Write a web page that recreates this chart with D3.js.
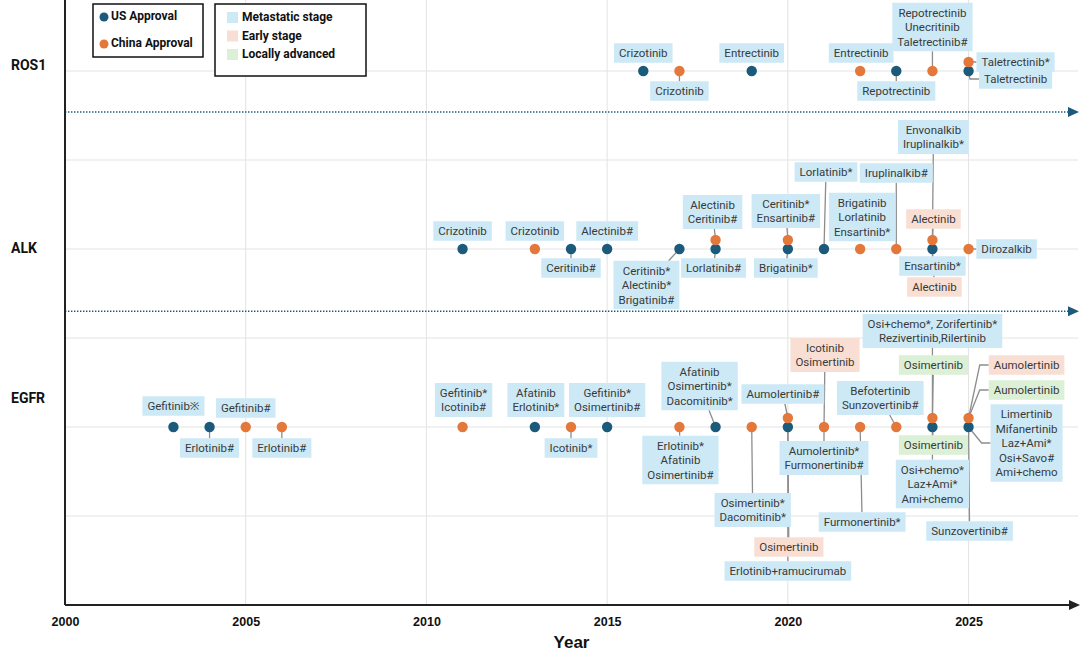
<!DOCTYPE html>
<html><head><meta charset="utf-8">
<script src="https://cdn.jsdelivr.net/npm/d3@7"></script>
<style>body{margin:0;background:#fff}svg{display:block}</style>
</head><body>
<svg id="chart" width="1080" height="655"></svg>
<script>
// ---------------- DATA ----------------
const genes = ["ROS1", "ALK", "EGFR"];
const yearTicks = [2000, 2005, 2010, 2015, 2020, 2025];
const regions = ["US Approval", "China Approval"];
const stages = ["Metastatic stage", "Early stage", "Locally advanced"];

const usROS1 = [2016, 2019, 2023, 2025];
const cnROS1 = [2017, 2022, 2024, 2025];
const usALK = [2011, 2014, 2015, 2017, 2018, 2020, 2021, 2024];
const cnALK = [2013, 2018, 2020, 2022, 2023, 2024, 2025];
const usEGFR = [2003, 2004, 2013, 2015, 2018, 2020, 2024, 2025];
const cnEGFR = [2005, 2006, 2011, 2014, 2017, 2019, 2020, 2021, 2022, 2023, 2024, 2025];

// [gene, year, region, stage, text]  (M = metastatic, E = early, L = locally advanced)
const approvalLabels = [
  ["ROS1", 2016, "US", "M", "Crizotinib"],
  ["ROS1", 2017, "CN", "M", "Crizotinib"],
  ["ROS1", 2019, "US", "M", "Entrectinib"],
  ["ROS1", 2022, "CN", "M", "Entrectinib"],
  ["ROS1", 2023, "US", "M", "Repotrectinib"],
  ["ROS1", 2024, "CN", "M", "Repotrectinib\nUnecritinib\nTaletrectinib#"],
  ["ROS1", 2025, "CN", "M", "Taletrectinib*"],
  ["ROS1", 2025, "US", "M", "Taletrectinib"],
  ["ALK", 2011, "US", "M", "Crizotinib"],
  ["ALK", 2013, "CN", "M", "Crizotinib"],
  ["ALK", 2014, "US", "M", "Ceritinib#"],
  ["ALK", 2015, "US", "M", "Alectinib#"],
  ["ALK", 2017, "US", "M", "Ceritinib*\nAlectinib*\nBrigatinib#"],
  ["ALK", 2018, "CN", "M", "Alectinib\nCeritinib#"],
  ["ALK", 2018, "US", "M", "Lorlatinib#"],
  ["ALK", 2020, "CN", "M", "Ceritinib*\nEnsartinib#"],
  ["ALK", 2020, "US", "M", "Brigatinib*"],
  ["ALK", 2021, "US", "M", "Lorlatinib*"],
  ["ALK", 2022, "CN", "M", "Brigatinib\nLorlatinib\nEnsartinib*"],
  ["ALK", 2023, "CN", "M", "Iruplinalkib#"],
  ["ALK", 2024, "CN", "E", "Alectinib"],
  ["ALK", 2024, "CN", "M", "Envonalkib\nIruplinalkib*"],
  ["ALK", 2024, "US", "M", "Ensartinib*"],
  ["ALK", 2024, "US", "E", "Alectinib"],
  ["ALK", 2025, "CN", "M", "Dirozalkib"],
  ["EGFR", 2003, "US", "M", "Gefitinib※"],
  ["EGFR", 2004, "US", "M", "Erlotinib#"],
  ["EGFR", 2005, "CN", "M", "Gefitinib#"],
  ["EGFR", 2006, "CN", "M", "Erlotinib#"],
  ["EGFR", 2011, "CN", "M", "Gefitinib*\nIcotinib#"],
  ["EGFR", 2013, "US", "M", "Afatinib\nErlotinib*"],
  ["EGFR", 2014, "CN", "M", "Icotinib*"],
  ["EGFR", 2015, "US", "M", "Gefitinib*\nOsimertinib#"],
  ["EGFR", 2017, "CN", "M", "Erlotinib*\nAfatinib\nOsimertinib#"],
  ["EGFR", 2018, "US", "M", "Afatinib\nOsimertinib*\nDacomitinib*"],
  ["EGFR", 2019, "CN", "M", "Osimertinib*\nDacomitinib*"],
  ["EGFR", 2020, "CN", "M", "Aumolertinib#"],
  ["EGFR", 2020, "US", "E", "Osimertinib"],
  ["EGFR", 2020, "US", "M", "Erlotinib+ramucirumab"],
  ["EGFR", 2021, "CN", "E", "Icotinib\nOsimertinib"],
  ["EGFR", 2021, "CN", "M", "Aumolertinib*\nFurmonertinib#"],
  ["EGFR", 2022, "CN", "M", "Furmonertinib*"],
  ["EGFR", 2023, "CN", "M", "Befotertinib\nSunzovertinib#"],
  ["EGFR", 2024, "CN", "L", "Osimertinib"],
  ["EGFR", 2024, "CN", "M", "Osi+chemo*, Zorifertinib*\nRezivertinib,Rilertinib"],
  ["EGFR", 2024, "US", "L", "Osimertinib"],
  ["EGFR", 2024, "US", "M", "Osi+chemo*\nLaz+Ami*\nAmi+chemo"],
  ["EGFR", 2025, "CN", "E", "Aumolertinib"],
  ["EGFR", 2025, "CN", "L", "Aumolertinib"],
  ["EGFR", 2025, "US", "M", "Limertinib\nMifanertinib\nLaz+Ami*\nOsi+Savo#\nAmi+chemo"],
  ["EGFR", 2025, "US", "M", "Sunzovertinib#"]
];

// ---------------- LAYOUT (label box centre offset from the dot's row point, link type) ----------------
const labelLayout = [
  [0,-18,0],[0,20,1],[0,-18,0],[1,-18,0],[0,20,1],[0,-44,1],[47,-9,2],[47,8,2],
  [0,-18,0],[0,-18,0],[0,19,1],[0,-18,0],[-33,36,1],[-3,-37,1],[-2,19,1],[-2,-38,1],[-2,19,1],
  [2,-77,1],[2,-32,0],[0,-76,1],[1,-30,1],[1,-112,1],[0,17,1],[2,38,1],[38,0,1],
  [0,-21,0],[0,21,1],[0,-19,0],[0,21,1],[1,-27,0],[1,-27,0],[0,21,1],[0,-27,0],
  [1,33,1],[-16,-41,1],[1,83,1],[-5,-33,1],[1,120,1],[0,144,1],[1,-72,1],[0,31,1],[2,95,1],
  [-16,-29,1],[1,-62,1],[0,-96,1],[1,18,1],[0,57,1],[58,-62,2],[58,-37,2],[58,16,2],[1,104,1]
];

// ---------------- STYLES ----------------
const usColor = "#1b5a7a", cnColor = "#e4773a";
const stageFill = {M: "#cde9f6", E: "#f9dfd3", L: "#dbf0d5"};
const labelFont = "Roboto, 'Noto Sans', sans-serif";
const axisFont = "'Liberation Sans Narrow','Liberation Sans',Arial,sans-serif";

const svg = d3.select("#chart");
const x = d3.scaleLinear().domain([2000, 2028]).range([65, 1077]);
const y = d3.scaleLinear().domain([0, 7]).range([605, -18]);
const geneLevel = d3.scaleOrdinal().domain(genes).range([6, 4, 2]);
const rowY = g => y(geneLevel(g));

// grid
const grid = svg.append("g");
grid.selectAll("line.v").data(yearTicks.slice(1)).join("line")
  .attr("x1", d => x(d)).attr("x2", d => x(d)).attr("y1", 0).attr("y2", y(0))
  .attr("stroke", "#e3e3e3").attr("stroke-width", 1);
grid.selectAll("line.h").data(d3.range(1, 7)).join("line")
  .attr("x1", x(2000)).attr("x2", 1078).attr("y1", d => y(d)).attr("y2", d => y(d))
  .attr("stroke", "#e3e3e3").attr("stroke-width", 1);

// separators (dotted arrows)
[5.54, 3.30].forEach(v => {
  svg.append("line").attr("x1", x(2000)).attr("x2", 1068).attr("y1", y(v)).attr("y2", y(v))
    .attr("stroke", usColor).attr("stroke-width", 1.6).attr("stroke-dasharray", "1.4,1.6");
  svg.append("path").attr("d", `M1068,${y(v)-5}L1079,${y(v)}L1068,${y(v)+5}Z`).attr("fill", usColor);
});

// axes
svg.append("line").attr("x1", x(2000)).attr("x2", x(2000)).attr("y1", 0).attr("y2", y(0))
  .attr("stroke", "#222").attr("stroke-width", 2);
svg.append("line").attr("x1", x(2000)).attr("x2", 1070).attr("y1", y(0)).attr("y2", y(0))
  .attr("stroke", "#222").attr("stroke-width", 2);
svg.append("path").attr("d", `M1069,${y(0)-5}L1080,${y(0)}L1069,${y(0)+5}Z`).attr("fill", "#222");

const xAxis = d3.axisBottom(x).tickValues(yearTicks).tickFormat(d3.format("d")).tickSize(0).tickPadding(12);
const ax = svg.append("g").attr("transform", `translate(0,${y(0)})`).call(xAxis);
ax.select(".domain").remove();
ax.selectAll("text").attr("font-family", axisFont)
  .attr("font-weight", "bold").attr("font-size", 12.5).attr("fill", "#111");
svg.append("text").attr("x", (x(2000) + 1078) / 2).attr("y", 644).attr("text-anchor", "middle")
  .attr("dominant-baseline", "middle").attr("font-family", axisFont)
  .attr("font-weight", "bold").attr("font-size", 17).attr("fill", "#111").text("Year");

// row labels
const rowLabelShift = [-5, 0, -28];
svg.selectAll("text.row").data(genes).join("text")
  .attr("x", 11).attr("y", (d, i) => rowY(d) + rowLabelShift[i])
  .attr("dominant-baseline", "middle").attr("font-family", labelFont)
  .attr("font-weight", "bold").attr("font-size", 14).attr("fill", "#111").text(d => d);

// dots
const dotList = [];
const usBy = {ROS1: usROS1, ALK: usALK, EGFR: usEGFR};
const cnBy = {ROS1: cnROS1, ALK: cnALK, EGFR: cnEGFR};
genes.forEach(g => {
  usBy[g].forEach(yr => dotList.push({g, yr, r: "US", off: 0}));
  cnBy[g].forEach(yr => dotList.push({g, yr, r: "CN", off: usBy[g].includes(yr) ? -9 : 0}));
});
const dotPos = (g, yr, r) => {
  const d = dotList.find(p => p.g === g && p.yr === yr && p.r === r);
  return [x(yr), rowY(g) + d.off];
};

// labels
const linkG = svg.append("g");
const boxG = svg.append("g");
const lineH = 14.5, fs = 11.5;
approvalLabels.forEach((L, i) => {
  const [g, yr, r, st, txt] = L;
  const [dx, dy, link] = labelLayout[i];
  const lines = txt.split("\n");
  const cx = x(yr) + dx, cy = rowY(g) + dy;
  const grp = boxG.append("g");
  const rect = grp.append("rect").attr("fill", stageFill[st]);
  const t = grp.append("text").attr("font-family", labelFont).attr("font-size", fs)
    .attr("fill", "#3a3a3a").attr("text-anchor", "middle");
  lines.forEach((ln, k) => {
    t.append("tspan").attr("x", cx).attr("y", cy + (k - (lines.length - 1) / 2) * lineH)
      .attr("dy", "0.35em").text(ln);
  });
  let wMax = 0;
  t.selectAll("tspan").each(function () { wMax = Math.max(wMax, this.getComputedTextLength()); });
  const w = wMax + 10, h = lines.length * lineH + 5;
  rect.attr("x", cx - w / 2).attr("y", cy - h / 2).attr("width", w).attr("height", h);
  const [px, py] = dotPos(g, yr, r);
  if (link === 1) {
    const ddx = cx - px, ddy = cy - py;
    const tx = ddx === 0 ? Infinity : (w / 2) / Math.abs(ddx);
    const ty = ddy === 0 ? Infinity : (h / 2) / Math.abs(ddy);
    const tt = Math.min(tx, ty);
    linkG.append("line").attr("x1", px).attr("y1", py)
      .attr("x2", cx - ddx * tt).attr("y2", cy - ddy * tt)
      .attr("stroke", "#8d8d8d").attr("stroke-width", 1.3);
  } else if (link === 2) {
    const left = cx - w / 2;
    linkG.append("path").attr("d", `M${px},${py}L${left - 9},${cy}L${left},${cy}`)
      .attr("fill", "none").attr("stroke", "#8d8d8d").attr("stroke-width", 1.3);
  }
});

// dots on top
svg.append("g").selectAll("circle").data(dotList).join("circle")
  .attr("cx", d => x(d.yr)).attr("cy", d => rowY(d.g) + d.off).attr("r", 5.2)
  .attr("fill", d => d.r === "US" ? usColor : cnColor);

// legends
const lg = svg.append("g").attr("font-family", labelFont).attr("font-weight", "bold").attr("font-size", 12).attr("fill", "#111");
lg.append("rect").attr("x", 93).attr("y", 4).attr("width", 110).attr("height", 53)
  .attr("fill", "#fff").attr("stroke", "#111").attr("stroke-width", 1.5);
regions.forEach((rg, i) => {
  lg.append("circle").attr("cx", 104).attr("cy", 17 + i * 27).attr("r", 4.5).attr("fill", i ? cnColor : usColor);
  lg.append("text").attr("x", 111).attr("y", 17 + i * 27).attr("dominant-baseline", "middle").text(rg);
});
lg.append("rect").attr("x", 215).attr("y", 4).attr("width", 151).attr("height", 72)
  .attr("fill", "#fff").attr("stroke", "#111").attr("stroke-width", 1.5);
stages.forEach((s, i) => {
  lg.append("rect").attr("x", 227).attr("y", 12 + i * 18.5).attr("width", 11).attr("height", 11)
    .attr("fill", stageFill["MEL"[i]]);
  lg.append("text").attr("x", 242).attr("y", 18 + i * 18.5).attr("dominant-baseline", "middle").text(s);
});
</script>
</body></html>
